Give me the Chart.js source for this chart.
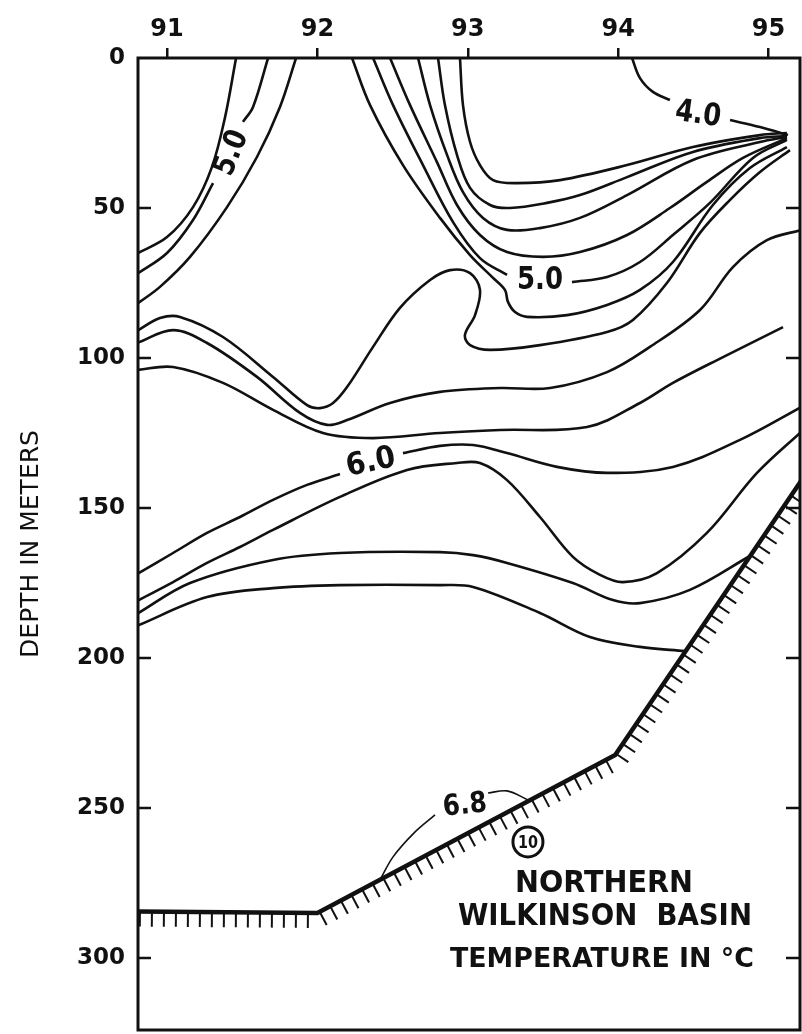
<!DOCTYPE html>
<html lang="en">
<head>
<meta charset="UTF-8">
<title>Northern Wilkinson Basin - Temperature</title>
<script src="https://cdn.jsdelivr.net/npm/chart.js"></script>
<style>
  html, body { margin: 0; padding: 0; background: #fff; overflow: hidden; }
  canvas { display: block; }
</style>
</head>
<body>
<canvas id="section" width="802" height="1034"></canvas>
<script>
// stations along the top, depth in meters down the side
const stationTicks = [91, 92, 93, 94, 95];
const depthTicks = [0, 50, 100, 150, 200, 250, 300];

const isoA = [[91.459,0],[91.386,19.7],[91.299,36.3],[91.173,49.7],[91.0,59.7],[90.80,65.2]];
const isoB1 = [[91.672,0],[91.572,16.3],[91.505,21.3]];
const isoB2 = [[91.306,41.7],[91.173,54],[91.0,65],[90.80,72]];
const isoC = [[91.858,0],[91.751,16.3],[91.598,33],[91.399,49.7],[91.153,66.3],[90.953,76.3],[90.80,82]];

const isoR1 = [[92.230,0],[92.350,15.7],[92.569,35.7],[92.815,53.3],[93.015,65.7],[93.168,73.3],[93.247,77.3],
  [93.267,81.3],[93.314,84.7],[93.394,86.3],[93.660,85.7],[93.926,82.3],[94.145,77.3],[94.364,68],[94.630,49],
  [94.876,36.7],[95.122,29.7]];
const isoR2a = [[92.370,0],[92.503,15.7],[92.702,35.7],[92.902,54.7],[93.081,66.7],[93.261,72.3]];
const isoR2b = [[93.693,74.7],[93.926,73],[94.145,68],[94.364,59],[94.610,48.3],[94.896,33.3],[95.122,27.3]];
const isoR3 = [[92.483,0],[92.616,15.7],[92.795,34.7],[92.928,49],[93.081,59],[93.261,64.7],[93.500,66.3],
  [93.746,64.7],[94.059,59],[94.344,50],[94.590,41.3],[94.830,33.3],[95.122,26.7]];
const isoR4 = [[92.669,0],[92.749,15.7],[92.862,32.3],[92.968,44.7],[93.101,53.3],[93.261,57.3],[93.480,56.7],
  [93.746,53.3],[94.059,45.7],[94.497,34],[94.943,28],[95.122,26.3]];
const isoR5 = [[92.802,0],[92.848,15.7],[92.928,32.3],[93.015,43.3],[93.148,49],[93.281,50],[93.527,48.3],
  [93.746,45.7],[94.059,39.7],[94.497,31.3],[94.943,26.7],[95.122,26]];
const isoR6 = [[92.948,0],[92.968,15.7],[93.015,28],[93.081,35.7],[93.168,40.7],[93.327,41.7],[93.613,40.7],
  [94.059,35.7],[94.497,29.7],[94.943,25.7],[95.122,25]];
const iso40a = [[94.092,0],[94.145,6.7],[94.231,11.3],[94.344,14]];
const iso40b = [[94.744,20.7],[94.943,23],[95.129,25.7]];

const isoLobe = [[90.80,91],[90.953,86.7],[91.086,86.3],[91.372,93],[91.705,106.3],[91.931,115.7],[92.017,116.7],
  [92.104,115],[92.197,109.7],[92.370,96.3],[92.549,83.3],[92.749,74],[92.882,70.7],[93.015,71.7],[93.081,77.3],
  [93.048,85.7],[92.981,92.3],[93.015,95.7],[93.148,97.3],[93.480,95.7],[93.926,91.3],[94.098,87.3],[94.324,75],
  [94.544,58.3],[94.744,47.3],[94.943,38],[95.142,30.7]];
const isoMidB = [[90.80,95],[91.040,90.7],[91.266,95],[91.598,106.3],[91.884,118.3],[92.064,122.3],[92.197,120.7],
  [92.483,115],[92.815,111.3],[93.214,110],[93.547,110],[93.926,104.7],[94.211,96.3],[94.544,84],[94.763,69.7],
  [94.989,60.7],[95.22,57.3]];
const isoMidC = [[90.80,104],[91.040,103],[91.372,108.3],[91.705,117.3],[92.037,125],[92.370,126.7],[92.815,125],
  [93.214,124],[93.793,123],[94.145,115],[94.364,108.3],[94.697,99.7],[95.096,89.7]];

const iso60a = [[90.80,172],[91.040,165],[91.266,158.3],[91.485,153],[91.705,147.3],[91.931,142.3],[92.150,138.7]];
const iso60b = [[92.569,131.7],[92.815,129.3],[93.035,129],[93.261,131.7],[93.593,136.3],[93.926,138.3],
  [94.364,136.3],[94.810,127.3],[95.23,116]];
const isoM1 = [[90.80,181],[91.040,174.7],[91.266,168.3],[91.485,163],[91.705,157.3],[92.150,146.3],[92.596,137.3],
  [92.928,135],[93.081,135],[93.261,140.7],[93.480,153],[93.699,166.3],[93.879,172.3],[94.032,174.7],[94.258,171.7],
  [94.590,158.3],[94.923,138.3],[95.23,124]];
const isoM2 = [[90.80,185.3],[91.153,175],[91.705,167.3],[92.150,165],[92.815,164.7],[93.035,165.7],[93.261,168.3],
  [93.699,175],[93.965,180.7],[94.145,181.7],[94.477,177.3],[94.876,166]];
const isoM3 = [[90.80,189.3],[91.266,179.7],[91.705,176.7],[92.150,175.7],[92.815,175.7],[93.035,176.3],
  [93.480,185],[93.812,193],[94.145,196.3],[94.444,197.7]];
const iso68a = [[92.416,274],[92.503,266.3],[92.643,258.3],[92.782,252.3]];
const iso68b = [[93.135,245],[93.261,244.3],[93.400,247.3]];

// bottom profile
const bottom = [[90.78,284.5],[92.0,285],[93.98,232.3],[95.25,138.5]];

// contour labels and station note, anchored in [station, depth]
const notes = [
  { text: '5.0', at: [91.432, 31.7], rot: -68, w: 46, size: 31 },
  { text: '5.0', at: [93.480, 74.3], rot: 0, w: 46, size: 32 },
  { text: '4.0', at: [94.531, 19], rot: 8, w: 46, size: 31 },
  { text: '6.0', at: [92.356, 135], rot: -12, w: 50, size: 31 },
  { text: '6.8', at: [92.981, 249.3], rot: -6, w: 44, size: 29 },
  { text: 'NORTHERN', at: [93.906, 275.3], rot: 0, w: 178, size: 30 },
  { text: 'WILKINSON  BASIN', at: [93.912, 286.3], rot: 0, w: 294, size: 30 },
  { text: 'TEMPERATURE IN \u00B0C', at: [93.892, 300.7], rot: 0, w: 304, size: 26 }
];
const stationMark = { text: '10', at: [93.400, 261.3] };

const toXY = arr => arr.map(p => ({ x: p[0], y: p[1] }));

function line(arr, width) {
  return {
    data: toXY(arr),
    showLine: true,
    borderColor: '#111',
    borderWidth: width || 2.6,
    pointRadius: 0,
    tension: 0.35,
    fill: false
  };
}

const contours = [isoA, isoB1, isoB2, isoC, isoR1, isoR2a, isoR2b, isoR3, isoR4, isoR5, isoR6, iso40a, iso40b,
  isoLobe, isoMidB, isoMidC, iso60a, iso60b, isoM1, isoM2, isoM3];

const datasets = contours.map(c => line(c));
datasets.push(line(iso68a, 1.6));
datasets.push(line(iso68b, 1.6));
const bottomSet = line(bottom, 4.5);
bottomSet.tension = 0;
datasets.push(bottomSet);

const FONT = "'DejaVu Sans', Arial, sans-serif";

const decor = {
  id: 'decor',
  afterDatasetsDraw(chart) {
    const ctx = chart.ctx;
    const a = chart.chartArea;
    const xs = chart.scales.x, ys = chart.scales.y;
    ctx.save();
    ctx.strokeStyle = '#111';
    ctx.fillStyle = '#111';

    // hatching under the bottom profile
    const pts = chart.getDatasetMeta(datasets.length - 1).data;
    ctx.save();
    ctx.beginPath();
    ctx.rect(a.left, a.top, a.right - a.left, a.bottom - a.top);
    ctx.clip();
    ctx.lineWidth = 2;
    let carry = 6;
    for (let i = 0; i < pts.length - 1; i++) {
      const p = pts[i], q = pts[i + 1];
      const dx = q.x - p.x, dy = q.y - p.y;
      const len = Math.hypot(dx, dy);
      const nx = -dy / len, ny = dx / len;
      let s = carry;
      while (s < len) {
        const x0 = p.x + dx * s / len, y0 = p.y + dy * s / len;
        ctx.beginPath();
        ctx.moveTo(x0, y0);
        ctx.lineTo(x0 + nx * 15, y0 + ny * 15);
        ctx.stroke();
        s += 12;
      }
      carry = s - len;
    }
    ctx.restore();

    // frame
    ctx.lineWidth = 3;
    ctx.strokeRect(a.left, a.top, a.right - a.left, a.bottom - a.top);

    // inward depth ticks, both sides
    ctx.lineWidth = 2.5;
    depthTicks.forEach(v => {
      if (v === 0) return;
      const y = ys.getPixelForValue(v);
      ctx.beginPath();
      ctx.moveTo(a.left, y);
      ctx.lineTo(a.left + 13, y);
      ctx.moveTo(a.right, y);
      ctx.lineTo(a.right - 14, y);
      ctx.stroke();
    });

    // labels
    ctx.textAlign = 'center';
    ctx.textBaseline = 'middle';
    notes.forEach(n => {
      ctx.font = 'bold ' + n.size + 'px ' + FONT;
      const m = ctx.measureText(n.text).width;
      ctx.save();
      ctx.translate(xs.getPixelForValue(n.at[0]), ys.getPixelForValue(n.at[1]));
      ctx.rotate(n.rot * Math.PI / 180);
      ctx.scale(n.w / m, 1);
      ctx.fillText(n.text, 0, 0);
      ctx.restore();
    });

    // circled station number
    const cx = xs.getPixelForValue(stationMark.at[0]), cy = ys.getPixelForValue(stationMark.at[1]);
    ctx.lineWidth = 3;
    ctx.beginPath();
    ctx.arc(cx, cy, 15, 0, Math.PI * 2);
    ctx.stroke();
    ctx.font = 'bold 18px ' + FONT;
    ctx.save();
    ctx.translate(cx, cy + 1);
    ctx.scale(0.8, 1);
    ctx.fillText(stationMark.text, 0, 0);
    ctx.restore();
    ctx.restore();
  }
};

new Chart(document.getElementById('section'), {
  type: 'scatter',
  data: { datasets: datasets },
  options: {
    responsive: false,
    animation: false,
    devicePixelRatio: 1,
    layout: { padding: { top: 0, left: 0, right: 2, bottom: 4 } },
    plugins: { legend: { display: false }, tooltip: { enabled: false } },
    scales: {
      x: {
        type: 'linear',
        position: 'top',
        min: 90.807,
        max: 95.209,
        afterBuildTicks: s => { s.ticks = stationTicks.map(v => ({ value: v })); },
        afterFit: s => { s.height = 58; s.paddingLeft = 0; s.paddingRight = 0; },
        border: { display: false },
        grid: { drawOnChartArea: false, drawTicks: true, tickLength: 10, color: '#111', lineWidth: 2.5 },
        ticks: { color: '#111', padding: 4, font: { family: FONT, size: 24, weight: 'bold' } }
      },
      y: {
        type: 'linear',
        position: 'left',
        reverse: true,
        min: 0,
        max: 324,
        afterBuildTicks: s => { s.ticks = depthTicks.map(v => ({ value: v })); },
        afterFit: s => { s.width = 138; s.paddingTop = 0; s.paddingBottom = 0; },
        border: { display: false },
        grid: { display: false, drawTicks: false },
        ticks: { color: '#111', padding: 13, font: { family: FONT, size: 23, weight: 'bold' } },
        title: {
          display: true,
          text: 'DEPTH IN METERS',
          color: '#111',
          padding: { top: 16, bottom: 0 },
          font: { family: FONT, size: 25, weight: '500' }
        }
      }
    }
  },
  plugins: [decor]
});
</script>
</body>
</html>
